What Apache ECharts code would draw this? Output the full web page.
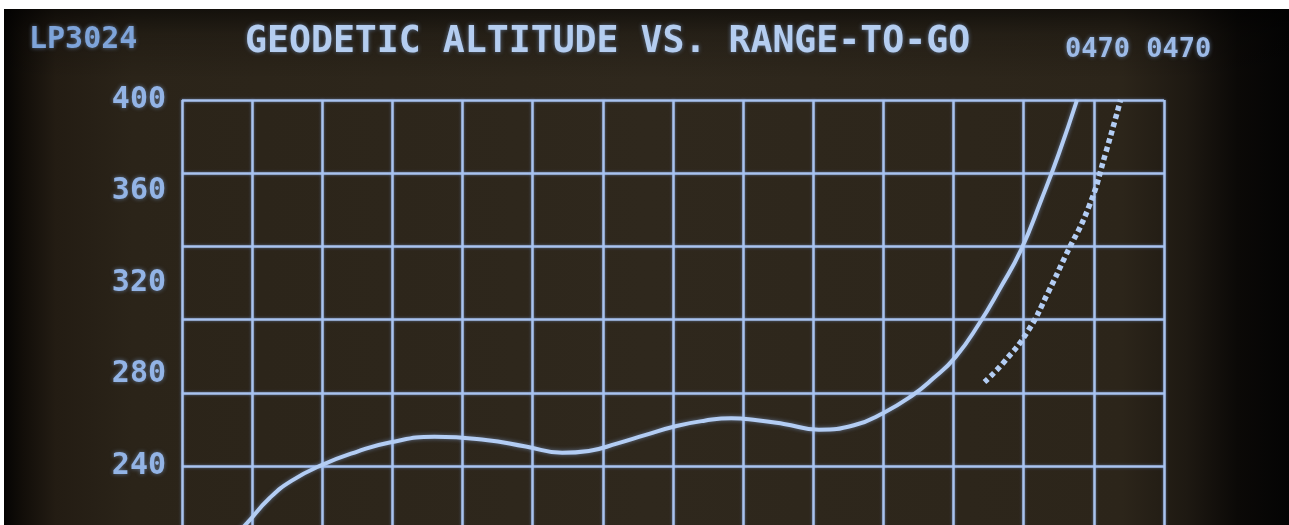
<!DOCTYPE html>
<html><head><meta charset="utf-8">
<script src="https://cdn.jsdelivr.net/npm/echarts@6/dist/echarts.min.js"></script>
<style>
html,body{margin:0;padding:0;background:#fff;width:1289px;height:525px;overflow:hidden;}
#c{position:absolute;left:4px;top:9px;width:1285px;height:900px;
background:
 linear-gradient(to bottom, rgba(0,0,0,0.55) 0px, rgba(0,0,0,0.2) 25px, rgba(0,0,0,0) 70px),
 linear-gradient(to right, #050403 0%, #120e09 1.5%, #231c13 4%, #2b2419 10%, #2f281d 50%, #2c251a 87%, #1e1912 92%, #0b0907 96%, #040404 100%);}
</style></head><body><div id="c"></div>
<script>
const pageId = 'LP3024';
const titleText = 'GEODETIC ALTITUDE VS. RANGE-TO-GO';
const counterText = '0470 0470';
const yTickLabels = [240, 280, 320, 360, 400];

const solidRange    = [0.72, 0.93, 1.25, 1.56, 2.00, 2.50, 2.96, 3.60, 4.33, 4.90, 5.42, 5.80, 6.21, 6.60, 7.05, 7.45, 7.83, 8.20, 8.58, 9.08, 9.58, 10.00, 10.40, 10.70, 11.03, 11.37, 11.66, 11.96, 12.25, 12.50, 12.76];
const solidAltitude = [208, 215.1, 226.0, 233.5, 240.5, 246.3, 250.3, 252.8, 251.4, 248.5, 245.8, 246.6, 249.9, 253.5, 257.5, 259.8, 260.9, 260.0, 258.4, 255.9, 257.8, 263.2, 270.6, 278.0, 287.7, 302.5, 317.5, 334.4, 356.3, 376.5, 400];

const dottedRange    = [11.44, 11.72, 12.06, 12.35, 12.59, 12.93, 13.17, 13.38];
const dottedAltitude = [276.7, 285.5, 299.0, 316.0, 331.5, 353.4, 377.0, 400];

const zip = (a, b) => a.map((v, i) => [v, b[i]]);

const FONT = 'DejaVu Sans Mono';
const GRID_COLOR = '#a9c3ef';
const LINE_COLOR = '#b3cdf4';
const glow = {textShadowColor: 'rgba(140,180,240,0.55)', textShadowBlur: 4};

const chart = echarts.init(document.getElementById('c'), null, {renderer: 'canvas'});
chart.setOption({
  backgroundColor: 'transparent',
  animation: false,
  title: [
    {text: pageId, left: 25, top: 16, padding: 0,
     textStyle: Object.assign({fontFamily: FONT, fontWeight: 'bold', fontSize: 30, color: '#7ea4da'}, glow)},
    {text: titleText, left: 241, top: 15, padding: 0,
     textStyle: Object.assign({fontFamily: FONT, fontWeight: 'bold', fontSize: 36.5, color: '#b4cdf0'}, glow)},
    {text: counterText, left: 1061, top: 27, padding: 0,
     textStyle: Object.assign({fontFamily: FONT, fontWeight: 'bold', fontSize: 27, color: '#9dbbe8'}, glow)}
  ],
  grid: {left: 178, top: 91, width: 982, height: 732, containLabel: false},
  xAxis: {
    type: 'value', min: 0, max: 14, interval: 1,
    axisLine: {show: false}, axisTick: {show: false}, axisLabel: {show: false},
    splitLine: {show: true, lineStyle: {color: GRID_COLOR, width: 2.5, shadowColor: 'rgba(140,180,255,0.5)', shadowBlur: 3}}
  },
  yAxis: [
    {
      type: 'value', min: 80, max: 400, interval: 40, position: 'left',
      axisLine: {show: false}, axisTick: {show: false}, splitLine: {show: false},
      axisLabel: Object.assign({
        show: true, margin: 16, padding: [0, 0, 8, 0],
        fontFamily: FONT, fontWeight: 'bold', fontSize: 30, color: '#93b4e6',
        formatter: v => yTickLabels.includes(v) ? String(v) : ''
      }, glow)
    },
    {
      type: 'value', min: 0, max: 320, interval: 32, position: 'left',
      axisLine: {show: false}, axisTick: {show: false}, axisLabel: {show: false},
      splitLine: {show: true, lineStyle: {color: GRID_COLOR, width: 2.5, shadowColor: 'rgba(140,180,255,0.5)', shadowBlur: 3}}
    }
  ],
  series: [
    {
      type: 'line', yAxisIndex: 0, data: zip(solidRange, solidAltitude),
      smooth: 0.5, symbol: 'none', z: 5,
      lineStyle: {color: LINE_COLOR, width: 4, shadowColor: 'rgba(150,190,255,0.5)', shadowBlur: 4}
    },
    {
      type: 'line', yAxisIndex: 0, data: zip(dottedRange, dottedAltitude),
      smooth: 0.5, symbol: 'none', z: 5,
      lineStyle: {color: LINE_COLOR, width: 5.5, type: [5, 3.5], cap: 'butt'}
    }
  ]
});
</script>
</body></html>
